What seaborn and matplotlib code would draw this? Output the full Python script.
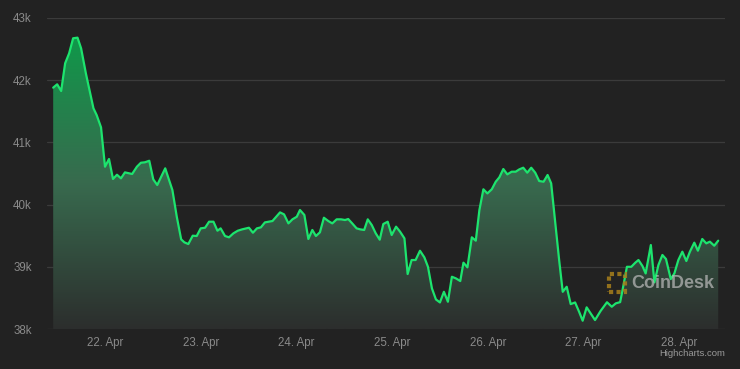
import numpy as np
import pandas as pd
import matplotlib
matplotlib.use("Agg")
import matplotlib.pyplot as plt
import matplotlib.dates as mdates
from matplotlib.patches import Rectangle
import seaborn as sns

# ---- data ----
start_date = "2022-04-21"
hours = [11.0, 12.0, 13.0, 14.0, 15.0, 16.0, 17.1, 18.0, 19.2, 21.1, 21.9, 23.0,
         24.0, 25.0, 26.0, 27.0, 28.0, 29.0, 30.8, 32.0, 33.0, 34.0, 35.1, 36.1,
         37.1, 39.1, 40.9, 42.0, 43.1, 43.9, 44.9, 46.0, 47.0, 48.0, 49.1, 50.1,
         51.2, 52.2, 53.0, 54.1, 55.1, 56.2, 57.3, 58.4, 60.1, 61.1, 62.1, 63.1,
         64.1, 66.0, 67.9, 68.9, 70.0, 71.0, 72.1, 72.9, 74.0, 75.0, 76.0, 76.9,
         77.9, 78.9, 80.0, 81.0, 82.1, 83.2, 84.2, 85.0, 86.0, 87.1, 88.0, 89.0,
         89.9, 90.9, 91.9, 92.9, 93.8, 94.9, 95.9, 97.0, 98.0, 99.1, 99.9, 100.9,
         101.9, 103.0, 104.1, 105.0, 106.0, 107.0, 108.0, 109.0, 110.0, 111.0, 112.0, 113.1,
         113.9, 114.9, 116.0, 117.0, 117.9, 118.9, 119.9, 121.0, 122.0, 122.9, 123.9, 124.9,
         126.0, 127.0, 127.9, 128.9, 129.9, 130.9, 131.9, 132.9, 134.0, 135.0, 135.9, 136.9,
         137.9, 138.8, 139.8, 140.8, 141.9, 142.9, 143.8, 144.8, 145.9, 146.9, 148.3, 149.9,
         151.1, 152.1, 153.2, 153.8, 154.9, 156.0, 157.0, 157.8, 158.8, 159.6, 160.9, 161.8,
         162.8, 163.8, 164.7, 165.9, 166.8, 167.8, 168.8, 169.8, 170.7, 171.8, 172.7, 173.8,
         174.8, 175.7, 176.8, 177.8]
prices = [41880, 41934, 41826, 42272, 42432, 42674, 42684, 42513, 42110, 41548, 41440, 41242,
          40609, 40733, 40412, 40480, 40422, 40518, 40492, 40609, 40673, 40680, 40705, 40406,
          40315, 40583, 40234, 39805, 39441, 39393, 39366, 39500, 39495, 39618, 39628, 39725,
          39725, 39580, 39618, 39495, 39474, 39538, 39580, 39602, 39628, 39548, 39618, 39634,
          39714, 39736, 39875, 39843, 39698, 39763, 39805, 39913, 39833, 39447, 39592, 39495,
          39554, 39789, 39736, 39698, 39763, 39763, 39752, 39768, 39698, 39618, 39602, 39592,
          39763, 39672, 39538, 39436, 39688, 39725, 39511, 39645, 39565, 39457, 38884, 39109,
          39109, 39258, 39151, 39000, 38652, 38475, 38427, 38598, 38438, 38840, 38814, 38771,
          39066, 38991, 39474, 39420, 39913, 40246, 40180, 40246, 40368, 40438, 40572, 40486,
          40529, 40529, 40566, 40593, 40513, 40593, 40513, 40379, 40368, 40476, 40342, 39725,
          39109, 38598, 38679, 38400, 38427, 38278, 38133, 38348, 38240, 38144, 38290, 38430,
          38358, 38412, 38432, 38625, 39000, 39000, 39066, 39109, 39012, 38893, 39350, 38750,
          39029, 39190, 39125, 38803, 38893, 39109, 39243, 39093, 39243, 39388, 39259, 39447,
          39377, 39404, 39339, 39420]
y_ticks = [38000, 39000, 40000, 41000, 42000, 43000]
y_labels = ["38k", "39k", "40k", "41k", "42k", "43k"]
x_tick_days = ["2022-04-22", "2022-04-23", "2022-04-24", "2022-04-25",
               "2022-04-26", "2022-04-27", "2022-04-28"]

df = pd.DataFrame({
    "time": pd.Timestamp(start_date) + pd.to_timedelta(hours, unit="h"),
    "price": prices,
})

BG = "#222222"
LINE = "#1de46e"
GRID = "#3b3b3b"
TXT = "#8a8a8a"

sns.set_theme(style="dark")
plt.rcParams["font.family"] = ["Liberation Sans", "DejaVu Sans"]

fig = plt.figure(figsize=(7.4, 3.69), dpi=100, facecolor=BG)
ax = fig.add_axes([47 / 740, 1 - 329 / 369, 678 / 740, 311 / 369])
ax.set_facecolor(BG)

xmin = pd.Timestamp(start_date) + pd.Timedelta(hours=9.45)
xmax = pd.Timestamp(start_date) + pd.Timedelta(hours=179.5)
ax.set_xlim(xmin, xmax)
ax.set_ylim(38000, 43000)

# gradient-filled area
poly = ax.fill_between(df["time"], df["price"], 38000, facecolor="none", edgecolor="none")
x0n, x1n = mdates.date2num(df["time"].iloc[0]), mdates.date2num(df["time"].iloc[-1])
top = max(prices)
n = 256
t = np.linspace(0, 1, n)[:, None]
c_top = np.array([16, 152, 74]) / 255
c_mid = np.array([56, 106, 78]) / 255
c_bot = np.array([44, 46, 45]) / 255
grad = np.where(t < 0.5, c_top + (c_mid - c_top) * (t / 0.5),
                c_mid + (c_bot - c_mid) * ((t - 0.5) / 0.5))
img = ax.imshow(grad.reshape(n, 1, 3), aspect="auto", origin="upper",
                extent=[x0n, x1n, 38000, top], zorder=1, interpolation="bilinear")
img.set_clip_path(poly.get_paths()[0], transform=ax.transData)
ax.set_xlim(xmin, xmax)
ax.set_ylim(38000, 43000)

sns.lineplot(data=df, x="time", y="price", ax=ax, color=LINE, linewidth=1.6, zorder=3)

# grid & ticks
ax.set_yticks(y_ticks)
ax.set_yticklabels(y_labels)
ax.set_xticks(pd.to_datetime(x_tick_days))
ax.xaxis.set_major_formatter(mdates.DateFormatter("%d. %b"))
ax.grid(False)
ax.yaxis.grid(True, color=GRID, linewidth=0.9)
ax.set_axisbelow(True)
ax.tick_params(axis="both", length=0, colors=TXT, labelsize=8.3)
ax.tick_params(axis="y", pad=11)
ax.tick_params(axis="x", pad=6)
for lab in ax.get_yticklabels() + ax.get_xticklabels():
    lab.set_color(TXT)
ax.set_xlabel("")
ax.set_ylabel("")
for s in ax.spines.values():
    s.set_visible(False)

# watermark
fig.text(631 / 740, 1 - 284 / 369, "CoinDesk", color="#bdbdbd", alpha=0.7,
         fontsize=13, fontweight="bold", ha="left", va="center")
fig.patches.append(Rectangle((609 / 740, 1 - 292 / 369), 16 / 740, 18 / 369,
                             transform=fig.transFigure, fill=False,
                             edgecolor="#a8801c", linewidth=3.0, linestyle=(0, (1, 0.8)),
                             alpha=0.85))

fig.text(725 / 740, 1 - 353 / 369, "Highcharts.com", color="#9a9a9a",
         fontsize=6.8, ha="right", va="center")

fig.savefig("out.png", dpi=100, facecolor=BG)
